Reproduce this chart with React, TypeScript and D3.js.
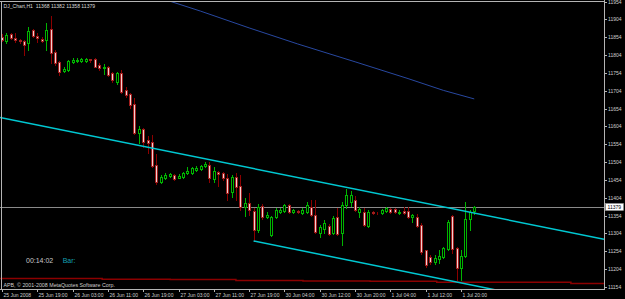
import React, { useEffect, useRef } from 'react';
import * as d3 from 'd3';

// DJ_Chart H1 bars, 25 Jun 2008 11:00 -> 1 Jul 2008 23:00
const opens = [
  11855, 11843, 11863, 11852, 11846, 11843, 11838, 11874, 11857, 11849,
  11846, 11877, 11813, 11785, 11759, 11762, 11785, 11787, 11787, 11787,
  11793, 11793, 11776, 11768, 11771, 11754, 11728, 11754, 11706, 11695,
  11667, 11586, 11597, 11566, 11560, 11496, 11448, 11460, 11465, 11468,
  11460, 11462, 11474, 11474, 11482, 11485, 11493, 11496, 11457, 11476,
  11474, 11460, 11420, 11462, 11437, 11378, 11389, 11367, 11314, 11381,
  11350, 11300, 11350, 11364, 11367, 11384, 11364, 11367, 11361, 11364,
  11378, 11356, 11305, 11317, 11325, 11305, 11350, 11305, 11384, 11392,
  11398, 11364, 11364, 11325, 11364, 11361, 11361, 11367, 11373, 11373,
  11361, 11367, 11367, 11350, 11350, 11328, 11258, 11238, 11224, 11233,
  11238, 11261, 11353, 11263, 11207, 11241, 11345, 11368
];
const highs = [
  11863, 11867, 11865, 11866, 11849, 11846, 11883, 11877, 11866, 11855,
  11894, 11913, 11818, 11787, 11771, 11790, 11796, 11796, 11796, 11796,
  11793, 11796, 11782, 11779, 11773, 11757, 11757, 11762, 11714, 11698,
  11684, 11605, 11600, 11577, 11580, 11527, 11468, 11474, 11474, 11471,
  11471, 11476, 11490, 11490, 11493, 11496, 11504, 11504, 11490, 11479,
  11476, 11471, 11468, 11474, 11468, 11403, 11418, 11375, 11387, 11387,
  11364, 11353, 11375, 11375, 11387, 11387, 11373, 11370, 11375, 11392,
  11398, 11398, 11328, 11342, 11331, 11353, 11375, 11392, 11428, 11423,
  11409, 11378, 11375, 11370, 11367, 11364, 11373, 11378, 11375, 11375,
  11370, 11378, 11378, 11359, 11359, 11333, 11258, 11244, 11244, 11258,
  11266, 11342, 11356, 11266, 11258, 11392, 11370, 11382
];
const lows = [
  11843, 11839, 11848, 11840, 11838, 11804, 11818, 11855, 11840, 11840,
  11818, 11782, 11776, 11748, 11757, 11759, 11782, 11785, 11785, 11785,
  11785, 11771, 11762, 11751, 11745, 11728, 11723, 11698, 11686, 11656,
  11583, 11558, 11546, 11530, 11490, 11443, 11446, 11457, 11462, 11454,
  11460, 11460, 11471, 11471, 11479, 11482, 11490, 11448, 11448, 11437,
  11454, 11398, 11406, 11398, 11370, 11353, 11356, 11283, 11308, 11345,
  11347, 11297, 11347, 11361, 11364, 11361, 11361, 11361, 11359, 11361,
  11353, 11305, 11294, 11305, 11300, 11303, 11300, 11272, 11375, 11381,
  11367, 11350, 11325, 11322, 11359, 11359, 11359, 11364, 11361, 11361,
  11359, 11359, 11347, 11336, 11322, 11247, 11210, 11219, 11219, 11221,
  11235, 11258, 11249, 11174, 11174, 11238, 11314, 11358
];
const closes = [
  11847, 11861, 11853, 11846, 11843, 11832, 11871, 11857, 11852, 11843,
  11874, 11810, 11782, 11757, 11765, 11787, 11790, 11791, 11793, 11793,
  11790, 11771, 11768, 11771, 11748, 11734, 11754, 11700, 11692, 11664,
  11586, 11597, 11560, 11558, 11493, 11448, 11462, 11468, 11471, 11457,
  11465, 11474, 11479, 11488, 11488, 11493, 11499, 11460, 11479, 11471,
  11460, 11418, 11462, 11434, 11378, 11389, 11370, 11314, 11378, 11350,
  11356, 11350, 11370, 11370, 11384, 11364, 11370, 11364, 11370, 11384,
  11356, 11308, 11322, 11333, 11303, 11347, 11303, 11384, 11412, 11412,
  11370, 11373, 11328, 11364, 11361, 11360, 11370, 11375, 11364, 11364,
  11364, 11361, 11350, 11356, 11325, 11252, 11216, 11224, 11235, 11241,
  11263, 11336, 11261, 11207, 11241, 11345, 11364, 11379
];

const priceTicks = [
  11954, 11904, 11854, 11804, 11754, 11704, 11654, 11604, 11554,
  11504, 11454, 11404, 11354, 11304, 11254, 11204, 11154
];
const timeTickBars = [0, 8, 16, 24, 32, 40, 48, 56, 64, 72, 80, 88, 96, 104];
const timeTickLabels = [
  '25 Jun 2008', '25 Jun 19:00', '26 Jun 03:00', '26 Jun 11:00', '26 Jun 19:00',
  '27 Jun 03:00', '27 Jun 11:00', '27 Jun 19:00', '30 Jun 04:00', '30 Jun 12:00',
  '30 Jun 20:00', '1 Jul 04:00', '1 Jul 12:00', '1 Jul 20:00'
];

// moving average (blue)
const maBars = [38, 45, 56, 67, 80, 92, 100, 107];
const maValues = [11955, 11927, 11880, 11835, 11785, 11738, 11705, 11681];

// channel trendlines (cyan), extended to the right as rays
const upperBars = [0, 107];
const upperValues = [11628, 11361];
const lowerBars = [57, 107];
const lowerValues = [11283, 11158];

// stepped level (dark red)
const levelBars = [-0.5, 22.7, 38.1, 53, 68.2, 83.4, 98.5, 128.9];
const levelValues = [11178, 11176, 11175, 11172, 11171, 11170, 11167, 11164];

const lastPrice = 11379;

const width = 625;
const height = 299;
const plot = { left: 1, top: 1, right: 604, bottom: 289 };
const smallFont = 'Liberation Sans, Arial, sans-serif';

const App: React.FC = () => {
  const svgRef = useRef<SVGSVGElement | null>(null);

  useEffect(() => {
    if (!svgRef.current) return;
    document.body.style.margin = '0';

    const svg = d3.select(svgRef.current);
    svg.selectAll('*').remove();

    const x = d3.scaleLinear().domain([0, 136.4]).range([2, plot.right]);
    const y = d3.scaleLinear().domain([11154, 11954]).range([287, 1.5]);

    svg.append('rect').attr('width', width).attr('height', height).attr('fill', '#000');

    svg.append('defs').append('clipPath').attr('id', 'plot-clip')
      .append('rect')
      .attr('x', 0).attr('y', plot.top)
      .attr('width', plot.right).attr('height', plot.bottom - plot.top);

    const g = svg.append('g').attr('clip-path', 'url(#plot-clip)');
    const line = d3.line<[number, number]>();

    // stepped red level
    const levelPts: [number, number][] = levelBars.map((b, i) => [x(b), y(levelValues[i])]);
    levelPts.push([plot.right, y(levelValues[levelValues.length - 1])]);
    g.append('path')
      .attr('d', d3.line<[number, number]>().curve(d3.curveStepAfter)(levelPts))
      .attr('fill', 'none')
      .attr('stroke', '#8c0000')
      .attr('stroke-width', 1.5);

    // current price line
    g.append('line')
      .attr('x1', 0).attr('x2', plot.right)
      .attr('y1', Math.round(y(lastPrice)) + 0.5).attr('y2', Math.round(y(lastPrice)) + 0.5)
      .attr('stroke', '#8a8a8a')
      .attr('stroke-width', 1);

    // candles
    const candles = g.append('g').attr('shape-rendering', 'crispEdges');
    opens.forEach((o, i) => {
      const c = closes[i];
      const bull = c >= o;
      const cx = Math.round(x(i));
      const yTop = Math.round(y(Math.max(o, c)));
      const yBot = Math.round(y(Math.min(o, c)));
      candles.append('line')
        .attr('x1', cx + 0.5).attr('x2', cx + 0.5)
        .attr('y1', Math.round(y(highs[i]))).attr('y2', Math.round(y(lows[i])) + 1)
        .attr('stroke', bull ? '#00b400' : '#8c0000');
      candles.append('rect')
        .attr('x', cx - 0.5).attr('y', yTop + 0.5)
        .attr('width', 2).attr('height', Math.max(yBot - yTop, 0))
        .attr('fill', bull ? '#000' : '#f2d0d0')
        .attr('stroke', bull ? '#00b400' : '#a01e1e')
        .attr('stroke-width', 1);
    });

    // blue moving average
    g.append('path')
      .attr('d', line(maBars.map((b, i) => [x(b), y(maValues[i])])))
      .attr('fill', 'none')
      .attr('stroke', '#2848a0')
      .attr('stroke-width', 1);

    // channel rays
    const ray = (bars: number[], vals: number[], from: number, to: number): [number, number][] => {
      const slope = (vals[1] - vals[0]) / (bars[1] - bars[0]);
      return [from, to].map(b => [x(b), y(vals[0] + slope * (b - bars[0]))] as [number, number]);
    };
    const rightBar = x.invert(plot.right);
    [ray(upperBars, upperValues, x.invert(0), rightBar), ray(lowerBars, lowerValues, lowerBars[0], rightBar)]
      .forEach(pts => {
        g.append('path')
          .attr('d', line(pts))
          .attr('fill', 'none')
          .attr('stroke', '#00c8d2')
          .attr('stroke-width', 1.5);
      });

    // frame
    const frame = svg.append('g').attr('stroke', '#b4b4b4').attr('shape-rendering', 'crispEdges');
    frame.append('line').attr('x1', 0).attr('x2', plot.right + 1).attr('y1', plot.top + 0.5).attr('y2', plot.top + 0.5);
    frame.append('line').attr('x1', plot.left + 0.5).attr('x2', plot.left + 0.5).attr('y1', plot.top).attr('y2', plot.bottom);
    frame.append('line').attr('x1', 0).attr('x2', plot.right + 1).attr('y1', plot.bottom + 0.5).attr('y2', plot.bottom + 0.5);
    frame.append('line').attr('x1', plot.right + 0.5).attr('x2', plot.right + 0.5).attr('y1', 0).attr('y2', plot.bottom + 1);

    // price axis
    priceTicks.forEach(p => {
      const ty = Math.round(y(p)) + 0.5;
      frame.append('line').attr('x1', plot.right).attr('x2', plot.right + 3).attr('y1', ty).attr('y2', ty);
      svg.append('text')
        .attr('x', 608).attr('y', ty + 1.8)
        .attr('font-family', smallFont).attr('font-size', 5)
        .attr('fill', '#cfcfcf')
        .text(p);
    });

    // last price marker
    const ly = Math.round(y(lastPrice));
    svg.append('rect')
      .attr('x', 605.5).attr('y', ly - 3.5)
      .attr('width', 18).attr('height', 7)
      .attr('fill', '#fff').attr('stroke', '#9a9a9a').attr('stroke-width', 0.5);
    svg.append('text')
      .attr('x', 607.5).attr('y', ly + 2.3)
      .attr('font-family', smallFont).attr('font-size', 5)
      .attr('fill', '#000')
      .text(lastPrice);

    // time axis
    timeTickBars.forEach((b, i) => {
      const tx = Math.round(x(b)) + 0.5;
      frame.append('line').attr('x1', tx).attr('x2', tx).attr('y1', plot.bottom).attr('y2', plot.bottom + 3);
      svg.append('text')
        .attr('x', tx + 1).attr('y', 296.5)
        .attr('font-family', smallFont).attr('font-size', 5)
        .attr('fill', '#cfcfcf')
        .text(timeTickLabels[i]);
    });

    // captions
    svg.append('text')
      .attr('x', 3.5).attr('y', 7.5)
      .attr('font-family', smallFont).attr('font-size', 5.1)
      .attr('fill', '#d8d8d8')
      .attr('xml:space', 'preserve')
      .text('DJ_Chart,H1  11368 11382 11358 11379');

    svg.append('text')
      .attr('x', 3.5).attr('y', 286.5)
      .attr('font-family', smallFont).attr('font-size', 5.3)
      .attr('fill', '#cfcfcf')
      .text('APB, \u00a9 2001-2008 MetaQuotes Software Corp.');

    svg.append('text')
      .attr('x', 26).attr('y', 262.8)
      .attr('font-family', smallFont).attr('font-size', 7)
      .attr('fill', '#c8c8c8')
      .text('00:14:02');

    svg.append('text')
      .attr('x', 62.7).attr('y', 262.8)
      .attr('font-family', smallFont).attr('font-size', 7)
      .attr('fill', '#14a0b4')
      .text('Bar:');
  }, []);

  return (
    <svg
      ref={svgRef}
      width={width}
      height={height}
      style={{ position: 'absolute', left: 0, top: 0, display: 'block' }}
    />
  );
};

export default App;
